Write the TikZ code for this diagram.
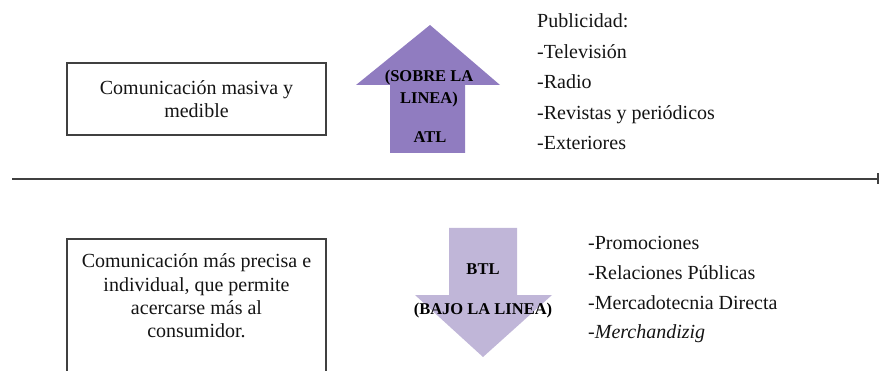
\documentclass[tikz,border=0pt]{standalone}
\usepackage{fontspec}
\setmainfont{Liberation Serif}
\usetikzlibrary{arrows.meta}
\definecolor{atlcol}{RGB}{144,124,192}
\definecolor{btlcol}{RGB}{192,182,216}
\definecolor{linecol}{RGB}{64,64,64}
\definecolor{txtcol}{RGB}{20,20,20}
\begin{document}
\begin{tikzpicture}[x=1pt,y=-1pt,
  boxline/.style={draw=linecol,line width=1.3pt},
  bodytext/.style={font=\fontsize{20}{23.3}\selectfont,text=txtcol,inner sep=0pt},
  listtext/.style={font=\fontsize{20}{24}\selectfont,text=txtcol,inner sep=0pt,anchor=base west},
  arrowtext/.style={font=\fontsize{16.5}{23}\selectfont\bfseries,text=black,inner sep=0pt,anchor=base,align=center}]
\useasboundingbox (0,0) rectangle (880,371);
% separating line
\coordinate (lineL) at (12,179);
\coordinate (lineR) at (879,179);
\draw[linecol,line width=2pt,-{Bar[width=11pt,line width=2pt]}] (lineL) -- (lineR);
% top box
\node[boxline,bodytext,minimum width=259pt,minimum height=72pt,align=center] (topbox) at (196.5,99)
  {Comunicación masiva y\\medible};
% up arrow
\fill[atlcol] (430,25) -- (500,85) -- (465,85) -- (465,153) -- (390,153) -- (390,85) -- (356,85) -- cycle;
\node[arrowtext] (sobre) at (429,104) {(SOBRE LA\\[-0.4pt]LINEA)};
\node[arrowtext] (atl) at (430,143) {ATL};
% top list
\node[listtext] (l1) at (537,28) {Publicidad:};
\node[listtext] (l2) at (537,58.5) {-Televisión};
\node[listtext] (l3) at (537,89) {-Radio};
\node[listtext] (l4) at (537,119.5) {-Revistas y periódicos};
\node[listtext] (l5) at (537,150) {-Exteriores};
% bottom box (cut off by the lower edge)
\draw[boxline] (67,375) -- (67,239) -- (326,239) -- (326,375);
\node[bodytext,align=center] (bottext) at (196.5,296)
  {Comunicación más precisa e\\individual, que permite\\acercarse más al\\consumidor.};
% down arrow
\fill[btlcol] (449,228) -- (517,228) -- (517,295) -- (552,295) -- (483,357) -- (415,295) -- (449,295) -- cycle;
\node[arrowtext] (btl) at (483,274) {BTL};
\node[arrowtext] (bajo) at (483,314) {(BAJO LA LINEA)};
% bottom list
\node[listtext] (m1) at (588,250) {-Promociones};
\node[listtext] (m2) at (588,279.5) {-Relaciones Públicas};
\node[listtext] (m3) at (588,309) {-Mercadotecnia Directa};
\node[listtext] (m4) at (588,338.5) {-\textit{Merchandizig}};
\end{tikzpicture}
\end{document}
